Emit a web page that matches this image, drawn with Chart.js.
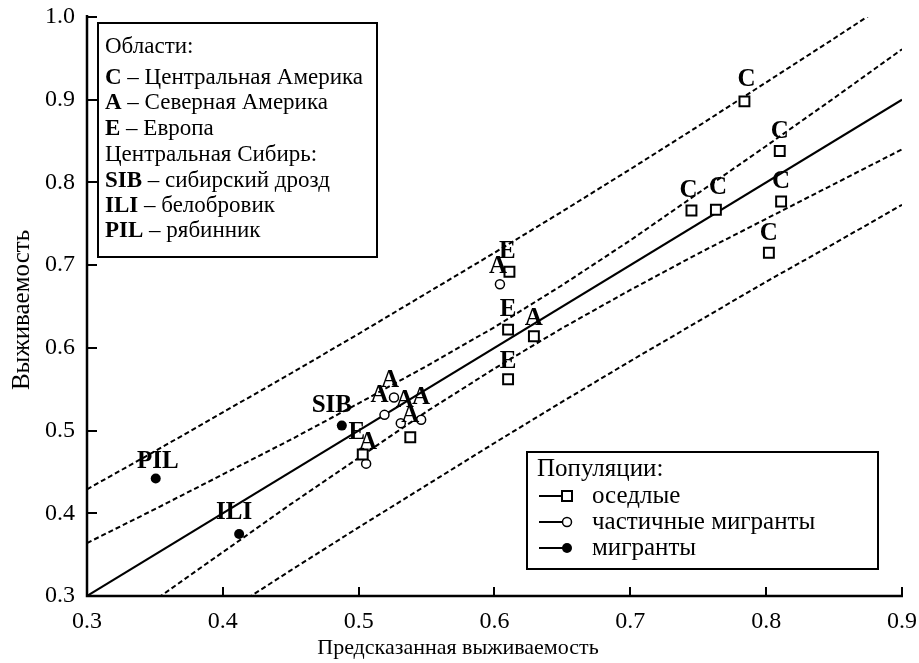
<!DOCTYPE html>
<html>
<head>
<meta charset="utf-8">
<script src="https://cdn.jsdelivr.net/npm/chart.js@4.4.1/dist/chart.umd.min.js"></script>
<style>
  html, body { margin: 0; padding: 0; background: #fff; }
  #wrap { width: 919px; height: 663px; }
</style>
</head>
<body>
<div id="wrap"><canvas id="c" width="919" height="663"></canvas></div>
<script>
// Resident populations (squares)
const residentX = [0.784, 0.810, 0.745, 0.763, 0.811, 0.802, 0.611, 0.610, 0.610, 0.503, 0.629, 0.538];
const residentY = [0.898, 0.838, 0.766, 0.767, 0.777, 0.715, 0.692, 0.622, 0.562, 0.471, 0.614, 0.492];
const residentLabels = ['C', 'C', 'C', 'C', 'C', 'C', 'E', 'E', 'E', 'E', 'A', 'A'];

// Partial migrants (open circles)
const partialX = [0.604, 0.519, 0.526, 0.531, 0.546, 0.5055];
const partialY = [0.677, 0.519, 0.540, 0.509, 0.513, 0.460];
const partialLabels = ['A', 'A', 'A', 'A', 'A', 'A'];

// Migrants, Central Siberia (filled circles)
const migrantX = [0.4876, 0.412, 0.3506];
const migrantY = [0.506, 0.375, 0.442];
const migrantLabels = ['SIB', 'ILI', 'PIL'];

// Observed = predicted line
const identityX = [0.3, 0.9];
const identityY = [0.3, 0.9];

// Dashed bands along the predicted axis
const bandX      = [0.30, 0.35, 0.40, 0.45, 0.50, 0.55, 0.60, 0.65, 0.70, 0.75, 0.80, 0.85, 0.90];
const upperOuter = [0.429, 0.475, 0.522, 0.569, 0.617, 0.666, 0.715, 0.765, 0.816, 0.868, 0.921, 0.974, 1.028];
const upperInner = [0.364, 0.405, 0.447, 0.489, 0.533, 0.578, 0.625, 0.676, 0.730, 0.787, 0.844, 0.902, 0.961];
const lowerInner = [0.236, 0.295, 0.353, 0.411, 0.467, 0.523, 0.575, 0.624, 0.670, 0.714, 0.756, 0.798, 0.840];
const lowerOuter = [0.171, 0.225, 0.278, 0.331, 0.383, 0.434, 0.485, 0.535, 0.584, 0.632, 0.680, 0.726, 0.773];

// Axis ticks and texts
const xTicks = [0.3, 0.4, 0.5, 0.6, 0.7, 0.8, 0.9];
const yTicks = [0.3, 0.4, 0.5, 0.6, 0.7, 0.8, 0.9, 1.0];
const xTitle = 'Предсказанная выживаемость';
const yTitle = 'Выживаемость';
const regionLegend = [
  ['', 'Области:'],
  ['C', ' – Центральная Америка'],
  ['A', ' – Северная Америка'],
  ['E', ' – Европа'],
  ['', 'Центральная Сибирь:'],
  ['SIB', ' – сибирский дрозд'],
  ['ILI', ' – белобровик'],
  ['PIL', ' – рябинник']
];
const populationTitle = 'Популяции:';
const populationNames = ['оседлые', 'частичные мигранты', 'мигранты'];

// Label offsets (px) relative to each marker
const residentLabelOffsets = [[2,-22],[0,-19],[-3,-20],[2,-22],[0,-20],[0,-19],[-2,-20],[0,-20],[0,-18],[-6,-22],[0,-18],[0,-22]];
const partialLabelOffsets  = [[-2,-18],[-5,-19],[-4,-17],[4,-23],[0,-22],[2,-21]];
const migrantLabelOffsets  = [[-10,-20],[-5,-21],[2,-17]];

const SERIF = '"Liberation Serif", "DejaVu Serif", serif';
const pts = (xs, ys) => xs.map((x, i) => ({ x: x, y: ys[i] }));

const bandStyle = {
  showLine: true, fill: false, pointRadius: 0, pointHoverRadius: 0,
  borderColor: '#000', borderWidth: 2, borderDash: [5, 3], order: 5
};

const decorations = {
  id: 'decorations',
  afterDatasetsDraw(chart) {
    const ctx = chart.ctx;
    const xs = chart.scales.x, ys = chart.scales.y;
    const area = chart.chartArea;
    ctx.save();
    ctx.fillStyle = '#000';
    ctx.font = 'bold 25px ' + SERIF;
    ctx.textAlign = 'center';
    ctx.textBaseline = 'middle';
    const drawLabels = (xsArr, ysArr, labels, offs) => {
      labels.forEach((t, i) => {
        const px = xs.getPixelForValue(xsArr[i]) + offs[i][0];
        const py = ys.getPixelForValue(ysArr[i]) + offs[i][1];
        ctx.fillText(t, px, py);
      });
    };
    drawLabels(residentX, residentY, residentLabels, residentLabelOffsets);
    drawLabels(partialX, partialY, partialLabels, partialLabelOffsets);
    drawLabels(migrantX, migrantY, migrantLabels, migrantLabelOffsets);

    // axes with inward ticks
    ctx.strokeStyle = '#000';
    ctx.lineWidth = 2.5;
    ctx.beginPath();
    ctx.moveTo(area.left, area.top - 2);
    ctx.lineTo(area.left, area.bottom);
    ctx.lineTo(area.right + 1, area.bottom);
    ctx.stroke();
    ctx.lineWidth = 2;
    ctx.beginPath();
    xTicks.forEach(v => {
      const px = Math.round(xs.getPixelForValue(v));
      ctx.moveTo(px, area.bottom);
      ctx.lineTo(px, area.bottom - 9);
    });
    yTicks.forEach(v => {
      const py = Math.round(ys.getPixelForValue(v));
      ctx.moveTo(area.left, py);
      ctx.lineTo(area.left + 10, py);
    });
    ctx.stroke();

    // axis titles
    ctx.font = '22px ' + SERIF;
    ctx.textAlign = 'center';
    ctx.textBaseline = 'middle';
    ctx.fillText(xTitle, 458, 648);
    ctx.save();
    ctx.translate(22, 310);
    ctx.rotate(-Math.PI / 2);
    ctx.font = '25px ' + SERIF;
    ctx.fillText(yTitle, 0, 0);
    ctx.restore();

    // region legend box
    ctx.fillStyle = '#fff';
    ctx.fillRect(98, 23, 279, 234);
    ctx.strokeStyle = '#000';
    ctx.lineWidth = 2;
    ctx.strokeRect(98, 23, 279, 234);
    ctx.fillStyle = '#000';
    ctx.textAlign = 'left';
    const rowY = [47, 78, 103, 129, 155, 181, 206, 231];
    regionLegend.forEach((row, i) => {
      let x = 105;
      if (row[0]) {
        ctx.font = 'bold 23px ' + SERIF;
        ctx.fillText(row[0], x, rowY[i]);
        x += ctx.measureText(row[0]).width;
      }
      ctx.font = '23px ' + SERIF;
      ctx.fillText(row[1], x, rowY[i]);
    });

    // population legend box
    ctx.fillStyle = '#fff';
    ctx.fillRect(527, 452, 351, 117);
    ctx.strokeRect(527, 452, 351, 117);
    ctx.fillStyle = '#000';
    ctx.font = '25px ' + SERIF;
    ctx.fillText(populationTitle, 537, 469);
    const legY = [496, 522, 548];
    populationNames.forEach((name, i) => {
      const y = legY[i];
      ctx.strokeStyle = '#000';
      ctx.lineWidth = 2;
      ctx.beginPath();
      ctx.moveTo(539, y);
      ctx.lineTo(563, y);
      ctx.stroke();
      if (i === 0) {
        ctx.fillStyle = '#fff';
        ctx.fillRect(562, y - 5, 10, 10);
        ctx.strokeRect(562, y - 5, 10, 10);
      } else if (i === 1) {
        ctx.fillStyle = '#fff';
        ctx.lineWidth = 1.5;
        ctx.beginPath();
        ctx.arc(567, y, 4.5, 0, Math.PI * 2);
        ctx.fill();
        ctx.stroke();
      } else {
        ctx.fillStyle = '#000';
        ctx.beginPath();
        ctx.arc(567, y, 5, 0, Math.PI * 2);
        ctx.fill();
      }
      ctx.fillStyle = '#000';
      ctx.fillText(name, 592, y);
    });
    ctx.restore();
  }
};

new Chart(document.getElementById('c'), {
  type: 'scatter',
  data: {
    datasets: [
      Object.assign({ label: 'upperOuter', data: pts(bandX, upperOuter) }, bandStyle),
      Object.assign({ label: 'upperInner', data: pts(bandX, upperInner) }, bandStyle),
      Object.assign({ label: 'lowerInner', data: pts(bandX, lowerInner) }, bandStyle),
      Object.assign({ label: 'lowerOuter', data: pts(bandX, lowerOuter) }, bandStyle),
      {
        label: 'identity', data: pts(identityX, identityY), showLine: true,
        pointRadius: 0, borderColor: '#000', borderWidth: 2, order: 4
      },
      {
        label: 'оседлые', data: pts(residentX, residentY),
        pointStyle: 'rect', pointRadius: 7, borderWidth: 2,
        borderColor: '#000', backgroundColor: '#fff', order: 1
      },
      {
        label: 'частичные мигранты', data: pts(partialX, partialY),
        pointStyle: 'circle', pointRadius: 4.5, borderWidth: 1.5,
        borderColor: '#000', backgroundColor: '#fff', order: 2
      },
      {
        label: 'мигранты', data: pts(migrantX, migrantY),
        pointStyle: 'circle', pointRadius: 5, borderWidth: 0,
        borderColor: '#000', backgroundColor: '#000', order: 3
      }
    ]
  },
  options: {
    responsive: false,
    animation: false,
    devicePixelRatio: 1,
    layout: { padding: { top: 17, right: 17, left: 0, bottom: 0 } },
    plugins: { legend: { display: false }, tooltip: { enabled: false } },
    scales: {
      x: {
        type: 'linear', min: 0.3, max: 0.9,
        afterFit(s) { s.height = 67; s.paddingLeft = 0; s.paddingRight = 0; },
        grid: { display: false }, border: { display: false },
        afterBuildTicks(s) { s.ticks = xTicks.map(v => ({ value: v })); },
        ticks: {
          color: '#000', padding: 3, maxRotation: 0,
          font: { family: SERIF, size: 24 },
          callback: v => v.toFixed(1)
        }
      },
      y: {
        type: 'linear', min: 0.3, max: 1.0,
        afterFit(s) { s.width = 87; s.paddingTop = 0; s.paddingBottom = 0; },
        grid: { display: false }, border: { display: false },
        afterBuildTicks(s) { s.ticks = yTicks.map(v => ({ value: v })); },
        ticks: {
          color: '#000', padding: 4,
          font: { family: SERIF, size: 24 },
          callback: v => v.toFixed(1)
        }
      }
    }
  },
  plugins: [decorations]
});
</script>
</body>
</html>
